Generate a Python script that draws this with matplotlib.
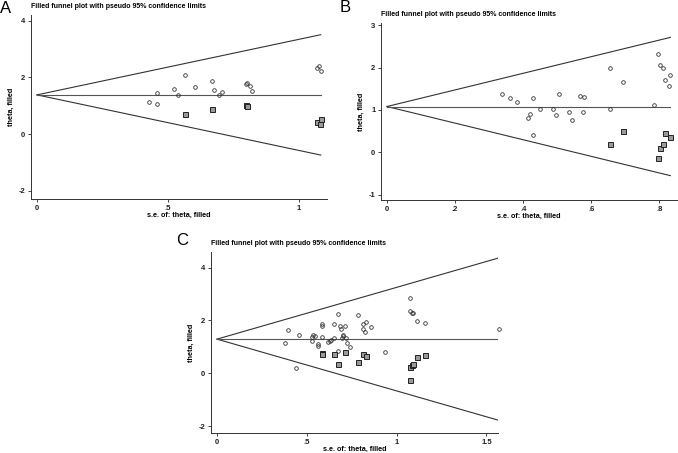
import matplotlib.pyplot as plt

plt.rcParams['font.family'] = ['Liberation Sans', 'DejaVu Sans']
plt.rcParams['axes.unicode_minus'] = False

OUTPUT_FILE = 'out.png'

# Panel A: observed studies (se, theta) and imputed (filled) studies
A_THETA = 1.38
A_SE_OBS = [0.429, 0.458, 0.458, 0.524, 0.537, 0.566, 0.602, 0.669, 0.677, 0.693,
            0.707, 0.797, 0.803, 0.813, 0.819, 1.070, 1.078, 1.083]
A_TH_OBS = [1.14, 1.43, 1.07, 1.58, 1.39, 2.07, 1.67, 1.88, 1.56, 1.36,
            1.47, 1.75, 1.80, 1.68, 1.52, 2.33, 2.41, 2.24]
A_SE_FILL = [0.566, 0.668, 0.797, 0.802, 1.070, 1.083, 1.080]
A_TH_FILL = [0.71, 0.89, 1.03, 0.99, 0.43, 0.53, 0.34]

# Panel B
B_THETA = 1.08
B_SE_OBS = [0.339, 0.360, 0.382, 0.429, 0.415, 0.420, 0.430, 0.450, 0.487, 0.496,
            0.506, 0.534, 0.544, 0.567, 0.578, 0.576, 0.655, 0.655, 0.692, 0.783,
            0.796, 0.802, 0.809, 0.817, 0.827, 0.832]
B_TH_OBS = [1.37, 1.29, 1.19, 1.29, 0.81, 0.90, 0.40, 1.01, 1.01, 0.87,
            1.37, 0.94, 0.76, 1.32, 1.30, 0.94, 1.98, 1.02, 1.65, 1.11,
            2.31, 2.07, 1.98, 1.70, 1.56, 1.82]
B_SE_FILL = [0.655, 0.692, 0.796, 0.802, 0.809, 0.817, 0.832]
B_TH_FILL = [0.19, 0.51, -0.13, 0.10, 0.19, 0.46, 0.35]

# Panel C
C_THETA = 1.29
C_SE_OBS = [0.376, 0.396, 0.442, 0.457, 0.531, 0.531, 0.537, 0.543, 0.561, 0.561,
            0.583, 0.587, 0.583, 0.620, 0.629, 0.636, 0.653, 0.653, 0.672, 0.676,
            0.685, 0.689, 0.694, 0.700, 0.704, 0.713, 0.718, 0.722, 0.739, 0.783,
            0.811, 0.811, 0.829, 0.826, 0.855, 0.933, 1.072, 1.074, 1.087, 1.092,
            1.115, 1.157, 1.568]
C_TH_OBS = [1.14, 1.63, 0.19, 1.45, 1.37, 1.21, 1.46, 1.41, 1.04, 1.12,
            1.87, 1.80, 1.36, 1.17, 1.22, 1.25, 1.87, 1.35, 2.24, 0.85,
            1.80, 1.66, 1.35, 1.43, 1.39, 1.80, 1.33, 1.13, 0.98, 2.20,
            1.85, 1.66, 1.95, 1.55, 1.76, 0.82, 2.84, 2.35, 2.29, 2.27,
            1.99, 1.89, 1.66]
C_SE_FILL = [0.583, 0.587, 0.653, 0.672, 0.713, 0.783, 0.811, 0.829, 1.072, 1.074,
             1.087, 1.092, 1.115, 1.157]
C_TH_FILL = [0.77, 0.72, 0.72, 0.34, 0.79, 0.41, 0.74, 0.64, -0.24, 0.25,
             0.30, 0.33, 0.60, 0.70]

W, H = 678, 453
fig = plt.figure(figsize=(W / 100, H / 100), dpi=100)


def px_axes(left, top, right, bottom):
    return fig.add_axes([left / W, 1 - bottom / H, (right - left) / W, (bottom - top) / H])


def funnel(ax, theta, se_obs, th_obs, se_fill, th_fill, xticks, xlabels, yticks):
    se_max = max(se_obs + se_fill)
    ax.plot([0, se_max], [theta, theta + 1.96 * se_max], color='#333333', lw=0.8)
    ax.plot([0, se_max], [theta, theta - 1.96 * se_max], color='#333333', lw=0.8)
    ax.plot([0, se_max], [theta, theta], color='#555555', lw=0.8)
    ax.plot(se_obs, th_obs, 'o', ms=2.6, mfc='none', mec='#333333', mew=0.6, clip_on=False)
    ax.plot(se_fill, th_fill, 's', ms=3.6, mfc='#9a9a9a', mec='#222222', mew=0.7, clip_on=False)
    ax.set_xticks(xticks)
    ax.set_xticklabels(xlabels)
    ax.set_yticks(yticks)
    ax.spines['right'].set_visible(False)
    ax.spines['top'].set_visible(False)
    for s in ('left', 'bottom'):
        ax.spines[s].set_linewidth(0.7)
        ax.spines[s].set_color('#333333')
    ax.tick_params(labelsize=5.5, length=2.5, width=0.6, pad=1.5, colors='#222222')
    ax.set_xlabel('s.e. of: theta, filled', fontsize=5.2, fontweight='bold', labelpad=0)
    ax.set_ylabel('theta, filled', fontsize=5.2, fontweight='bold', labelpad=3)
    ax.set_title('Filled funnel plot with pseudo 95% confidence limits', loc='left',
                 fontsize=5.0, fontweight='bold', pad=5)
    for lab in ax.get_xticklabels() + ax.get_yticklabels():
        lab.set_fontweight('bold')


# Panel A
axA = px_axes(31, 15, 327, 199)
funnel(axA, A_THETA, A_SE_OBS, A_TH_OBS, A_SE_FILL, A_TH_FILL,
       [0, 0.5, 1], ['0', '.5', '1'], [-2, 0, 2, 4])
axA.set_xlim(-0.0229, 1.107)
axA.set_ylim(-2.293, 4.198)

# Panel B
axB = px_axes(381, 23, 677, 200)
funnel(axB, B_THETA, B_SE_OBS, B_TH_OBS, B_SE_FILL, B_TH_FILL,
       [0, 0.2, 0.4, 0.6, 0.8], ['0', '.2', '.4', '.6', '.8'], [-1, 0, 1, 2, 3])
axB.set_xlim(-0.0176, 0.8515)
axB.set_ylim(-1.125, 3.05)

# Panel C
axC = px_axes(211, 252, 498, 433)
funnel(axC, C_THETA, C_SE_OBS, C_TH_OBS, C_SE_FILL, C_TH_FILL,
       [0, 0.5, 1, 1.5], ['0', '.5', '1', '1.5'], [-2, 0, 2, 4])
axC.set_xlim(-0.0333, 1.5644)
axC.set_ylim(-2.264, 4.589)

# Panel letters
fig.text(0 / W, 1 - 1 / H, 'A', fontsize=12, va='top', ha='left')
fig.text(340 / W, 1 - 0 / H, 'B', fontsize=12, va='top', ha='left')
fig.text(176 / W, 1 - 233 / H, 'C', fontsize=12, va='top', ha='left')

fig.savefig(OUTPUT_FILE, dpi=100)
